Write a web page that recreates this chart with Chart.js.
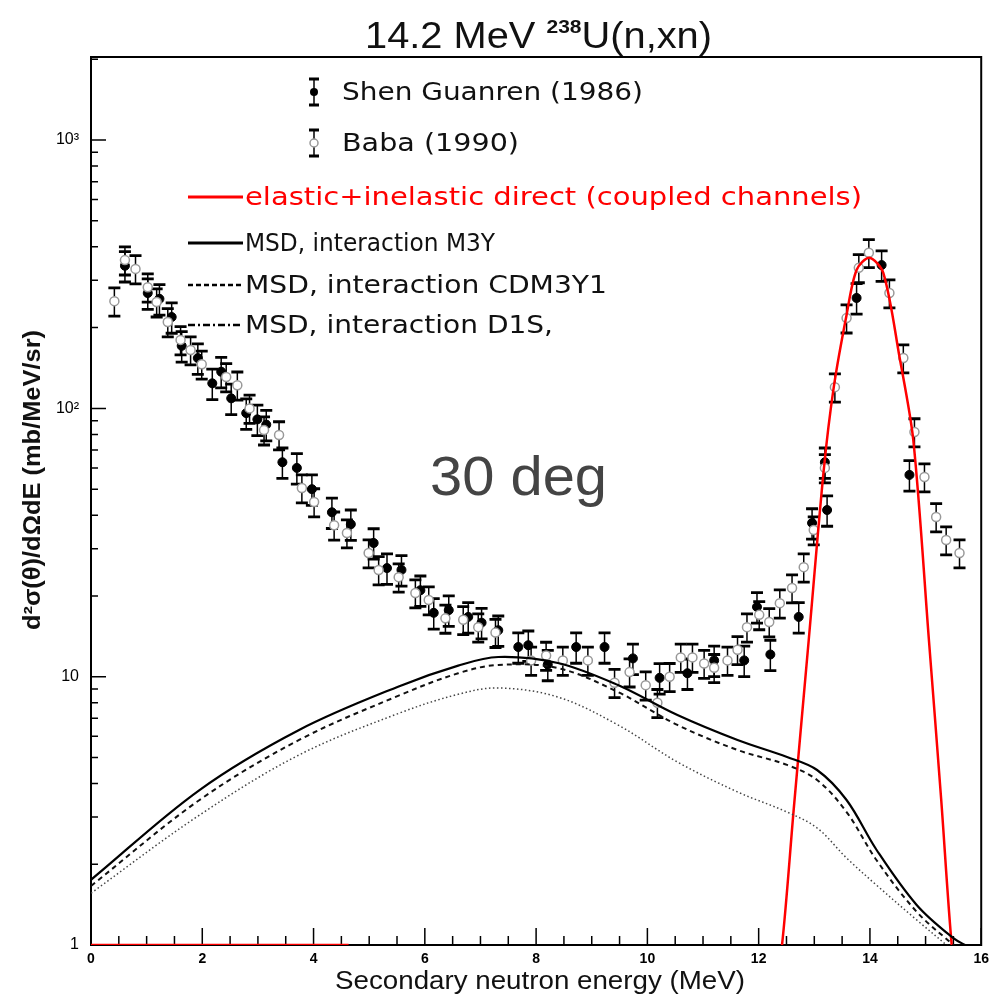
<!DOCTYPE html>
<html>
<head>
<meta charset="utf-8">
<script src="https://cdn.jsdelivr.net/npm/chart.js@4.4.1/dist/chart.umd.min.js"></script>
<style>
  html, body { margin: 0; padding: 0; background: #fff; }
  canvas { display: block; }
</style>
</head>
<body>
<canvas id="xsChart" width="995" height="995"></canvas>
<script>
// Shen Guanren (1986) - filled circles
const shenE  = [0.61, 1.02, 1.23, 1.45, 1.63, 1.92, 2.18, 2.34, 2.52, 2.79, 2.99, 3.15, 3.44, 3.70, 3.97,
                4.33, 4.67, 5.08, 5.32, 5.58, 5.92, 6.16, 6.43, 6.78, 7.02, 7.32, 7.68, 7.86, 8.21, 8.72,
                9.23, 9.74, 10.22, 10.72, 11.20, 11.74, 11.97, 12.21, 12.72, 12.96, 13.19, 13.23, 13.76, 14.21, 14.71];
const shenXS = [340, 269, 256, 219, 171, 154, 124, 137, 109, 96, 91, 87, 63, 60, 50,
                41, 37, 31.5, 25.4, 25, 21, 17.3, 17.7, 16.7, 15.9, 14.9, 12.9, 13.1, 11.1, 12.9,
                12.9, 11.7, 9.9, 10.3, 11.5, 11.5, 18.2, 12.1, 16.7, 37.4, 63, 41.8, 258, 342, 56.5];

// Baba (1990) - open circles
const babaE  = [0.42, 0.61, 0.80, 1.02, 1.18, 1.38, 1.61, 1.79, 1.99, 2.43, 2.63, 2.85, 3.11, 3.38, 3.79,
                4.01, 4.37, 4.60, 4.99, 5.17, 5.53, 5.83, 6.07, 6.37, 6.69, 6.96, 7.27, 7.91, 8.18, 8.48,
                8.93, 9.41, 9.68, 9.97, 10.18, 10.40, 10.60, 10.81, 11.02, 11.20, 11.44, 11.62, 11.79, 12.01, 12.19,
                12.38, 12.60, 12.81, 12.99, 13.19, 13.37, 13.58, 13.80, 13.98, 14.35, 14.60, 14.80, 14.98, 15.19, 15.37, 15.61];
const babaXS = [251, 357, 331, 283, 249, 210, 180, 165, 146, 131, 122, 100, 83, 79.6, 50.5,
                44.8, 36.7, 34.3, 28.9, 25, 23.5, 20.5, 19.3, 16.5, 16.3, 15.3, 14.6, 11.5, 12.0, 11.5,
                11.5, 9.5, 10.4, 9.3, 8.0, 10.0, 11.8, 11.8, 11.2, 10.8, 11.5, 12.6, 15.3, 17.0, 16.0,
                18.8, 21.4, 25.6, 35.2, 60, 120, 217, 334, 380, 269, 154, 81.7, 55.5, 39.4, 32.3, 28.9];

// relative size of the error bars
const shenErr = 0.13;
const babaErr = 0.12;

// elastic + inelastic direct (coupled channels); low-energy part sits on the axis
const ccE  = [0, 4.63, 4.64, 12.30, 12.42, 12.63, 12.90, 13.17, 13.35, 13.58, 13.76, 13.99, 14.24, 14.53, 14.78, 15.06, 15.28, 15.47, 15.58];
const ccXS = [1, 1, null, 0.75, 1.0, 3.2, 13.7, 59, 120, 223, 328, 364, 320, 156, 76, 13.7, 3.5, 1.0, 0.7];

// MSD calculations for three interactions
const msdE      = [0, 1.95, 3.74, 5.53, 6.60, 7.32, 8.39, 9.47, 10.54, 11.62, 12.51, 13.05, 13.58, 14.12, 14.84, 15.5, 15.75];
const msdM3Y    = [1.75, 3.78, 6.33, 9.2, 11.0, 11.84, 11.25, 9.31, 7.2, 5.81, 5.02, 4.49, 3.47, 2.26, 1.41, 1.06, 0.99];
const msdCDM3Y1 = [1.66, 3.47, 5.81, 8.5, 10.3, 11.06, 10.77, 8.77, 6.61, 5.33, 4.69, 4.12, 3.13, 2.07, 1.33, 1.0, 0.9];
const msdD1S    = [1.56, 3.05, 5.11, 7.3, 8.6, 9.08, 8.40, 6.61, 4.81, 3.72, 3.13, 2.73, 2.11, 1.67, 1.24, 0.95, 0.85];

const yDecades = [1, 10, 100, 1000];
const yDecadeLabels = ['1', '10', '10²', '10³'];

const font = 'Liberation Sans, Arial, sans-serif';
const legendFont = '25px DejaVu Sans, sans-serif';

function pts(xs, ys) {
  return xs.map((x, i) => ({ x: x, y: ys[i] }));
}

// draw text left-aligned at (x, y), stretched to a given width
function fitText(ctx, text, x, y, width) {
  const w = ctx.measureText(text).width;
  ctx.save();
  ctx.translate(x, y);
  ctx.scale(width / w, 1);
  ctx.fillText(text, 0, 0);
  ctx.restore();
}

// frame and inward tick marks
const framePlugin = {
  id: 'frame',
  beforeDatasetsDraw(chart) {
    const { ctx, chartArea: a, scales: { x, y } } = chart;
    ctx.save();
    ctx.strokeStyle = '#000';
    ctx.lineWidth = 1.5;
    ctx.beginPath();
    x.ticks.forEach(t => {
      const px = x.getPixelForValue(t.value);
      const len = t.value % 2 === 0 ? 17 : 9;
      ctx.moveTo(px, a.bottom);
      ctx.lineTo(px, a.bottom - len);
    });
    y.ticks.forEach(t => {
      const v = t.value;
      const dec = Math.pow(10, Math.floor(Math.log10(v) + 1e-9));
      const m = v / dec;
      if (Math.abs(m - Math.round(m)) > 1e-6) return;
      const py = y.getPixelForValue(v);
      const len = Math.round(m) === 1 ? 15 : 7;
      ctx.moveTo(a.left, py);
      ctx.lineTo(a.left + len, py);
    });
    ctx.stroke();
    ctx.lineWidth = 2;
    ctx.strokeRect(a.left, a.top, a.width, a.height);
    ctx.restore();
  }
};

// vertical error bars with caps, drawn under the markers
const errorBarPlugin = {
  id: 'errorBars',
  beforeDatasetsDraw(chart) {
    const { ctx, scales: { y } } = chart;
    ctx.save();
    ctx.strokeStyle = '#000';
    chart.data.datasets.forEach((ds, i) => {
      if (!ds.errFrac) return;
      const meta = chart.getDatasetMeta(i);
      meta.data.forEach((el, j) => {
        const v = ds.data[j].y;
        const top = y.getPixelForValue(v * (1 + ds.errFrac));
        const bot = y.getPixelForValue(v * (1 - ds.errFrac));
        ctx.lineWidth = 1.5;
        ctx.beginPath();
        ctx.moveTo(el.x, top);
        ctx.lineTo(el.x, bot);
        ctx.stroke();
        ctx.lineWidth = 2.8;
        ctx.beginPath();
        ctx.moveTo(el.x - 6, top);
        ctx.lineTo(el.x + 6, top);
        ctx.moveTo(el.x - 6, bot);
        ctx.lineTo(el.x + 6, bot);
        ctx.stroke();
      });
    });
    ctx.restore();
  }
};

// title, axis titles, legend and angle label
const textPlugin = {
  id: 'texts',
  afterDraw(chart) {
    const { ctx } = chart;
    ctx.save();
    ctx.fillStyle = '#111';
    ctx.textAlign = 'left';
    ctx.textBaseline = 'alphabetic';

    // title with superscript mass number
    const t1 = '14.2 MeV ', sup = '238', t2 = 'U(n,xn)';
    ctx.font = '36px ' + font;
    const w1 = ctx.measureText(t1).width, w3 = ctx.measureText(t2).width;
    ctx.font = '19px ' + font;
    const w2 = ctx.measureText(sup).width;
    const k = 347 / (w1 + w2 + w3);
    ctx.save();
    ctx.translate(365, 48);
    ctx.scale(k, 1);
    ctx.font = '36px ' + font;
    ctx.fillText(t1, 0, 0);
    ctx.font = 'bold 19px ' + font;
    ctx.fillText(sup, w1, -15);
    ctx.font = '36px ' + font;
    ctx.fillText(t2, w1 + w2, 0);
    ctx.restore();

    // x axis title
    ctx.font = '26px ' + font;
    fitText(ctx, 'Secondary neutron energy (MeV)', 335, 989, 410);

    // y axis title
    ctx.save();
    ctx.translate(40, 630);
    ctx.rotate(-Math.PI / 2);
    ctx.font = 'bold 23px ' + font;
    fitText(ctx, 'd²σ(θ)/dΩdE (mb/MeV/sr)', 0, 0, 300);
    ctx.restore();

    // angle label
    ctx.fillStyle = '#444';
    ctx.font = '56px ' + font;
    fitText(ctx, '30 deg', 430, 495, 177);

    // legend
    ctx.textBaseline = 'middle';
    ctx.strokeStyle = '#000';
    [[92, true], [143, false]].forEach(([ly, filled]) => {
      ctx.lineWidth = 1.5;
      ctx.beginPath();
      ctx.moveTo(314, ly - 13); ctx.lineTo(314, ly + 13);
      ctx.stroke();
      ctx.lineWidth = 2.8;
      ctx.beginPath();
      ctx.moveTo(309, ly - 13); ctx.lineTo(319, ly - 13);
      ctx.moveTo(309, ly + 13); ctx.lineTo(319, ly + 13);
      ctx.stroke();
      ctx.beginPath();
      ctx.arc(314, ly, 4, 0, Math.PI * 2);
      ctx.fillStyle = filled ? '#000' : '#fff';
      ctx.fill();
      if (!filled) { ctx.strokeStyle = '#999'; ctx.lineWidth = 1.5; ctx.stroke(); ctx.strokeStyle = '#000'; }
    });
    ctx.font = legendFont;
    ctx.fillStyle = '#111';
    fitText(ctx, 'Shen Guanren (1986)', 342, 93, 301);
    fitText(ctx, 'Baba (1990)', 342, 144, 177);

    const lines = [
      [197, '#ff0000', [], 3, 'elastic+inelastic direct (coupled channels)', 617],
      [243, '#000', [], 3, 'MSD, interaction M3Y', 250],
      [285, '#000', [5, 3], 2.5, 'MSD, interaction CDM3Y1', 362],
      [325, '#000', [7, 3, 2, 3], 2.5, 'MSD, interaction D1S,', 308]
    ];
    lines.forEach(([ly, col, dash, lw, label, width]) => {
      ctx.strokeStyle = col;
      ctx.lineWidth = lw;
      ctx.setLineDash(dash);
      ctx.beginPath();
      ctx.moveTo(188, ly); ctx.lineTo(243, ly);
      ctx.stroke();
      ctx.setLineDash([]);
      ctx.fillStyle = col === '#000' ? '#111' : col;
      fitText(ctx, label, 245, ly + 1, width);
    });
    ctx.restore();
  }
};

new Chart(document.getElementById('xsChart'), {
  type: 'scatter',
  data: {
    datasets: [
      {
        label: 'MSD, interaction D1S',
        data: pts(msdE, msdD1S),
        showLine: true,
        borderColor: '#444',
        borderWidth: 1.5,
        borderDash: [1.5, 2.5],
        tension: 0.35,
        pointRadius: 0
      },
      {
        label: 'MSD, interaction CDM3Y1',
        data: pts(msdE, msdCDM3Y1),
        showLine: true,
        borderColor: '#111',
        borderWidth: 2,
        borderDash: [5, 4],
        tension: 0.35,
        pointRadius: 0
      },
      {
        label: 'MSD, interaction M3Y',
        data: pts(msdE, msdM3Y),
        showLine: true,
        borderColor: '#000',
        borderWidth: 2.2,
        tension: 0.35,
        pointRadius: 0
      },
      {
        label: 'elastic+inelastic direct (coupled channels)',
        data: pts(ccE, ccXS),
        showLine: true,
        spanGaps: false,
        borderColor: '#ff0000',
        borderWidth: 2.5,
        tension: 0.3,
        pointRadius: 0
      },
      {
        label: 'Baba (1990)',
        data: pts(babaE, babaXS),
        errFrac: babaErr,
        pointRadius: 4.5,
        pointBackgroundColor: '#fff',
        pointBorderColor: '#999',
        pointBorderWidth: 1.5
      },
      {
        label: 'Shen Guanren (1986)',
        data: pts(shenE, shenXS),
        errFrac: shenErr,
        pointRadius: 4.5,
        pointBackgroundColor: '#000',
        pointBorderColor: '#000',
        pointBorderWidth: 1
      }
    ]
  },
  options: {
    responsive: false,
    animation: false,
    layout: { padding: { top: 57, right: 10, left: 0, bottom: 0 } },
    plugins: {
      legend: { display: false },
      title: { display: false },
      tooltip: { enabled: false }
    },
    scales: {
      x: {
        type: 'linear',
        min: 0,
        max: 16,
        grid: { display: false, drawTicks: false },
        border: { display: false },
        afterFit: s => { s.height = 50; },
        ticks: {
          stepSize: 0.5,
          autoSkip: false,
          maxRotation: 0,
          padding: 6,
          color: '#000',
          font: { family: font, size: 14, weight: 'bold' },
          callback: v => (v % 2 === 0 ? String(v) : '')
        }
      },
      y: {
        type: 'logarithmic',
        min: 1,
        max: 2040,
        grid: { display: false, drawTicks: false },
        border: { display: false },
        afterFit: s => { s.width = 91; },
        ticks: {
          autoSkip: false,
          padding: 12,
          color: '#000',
          font: { family: font, size: 16 },
          callback: v => {
            const k = yDecades.indexOf(v);
            return k >= 0 ? yDecadeLabels[k] : '';
          }
        }
      }
    }
  },
  plugins: [framePlugin, errorBarPlugin, textPlugin]
});
</script>
</body>
</html>
